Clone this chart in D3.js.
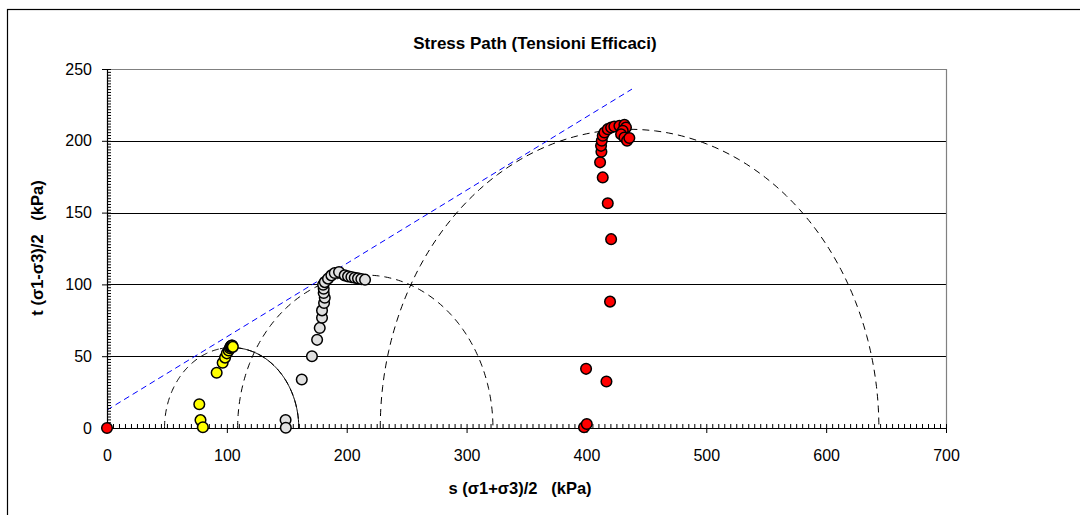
<!DOCTYPE html>
<html><head><meta charset="utf-8">
<script src="https://cdn.jsdelivr.net/npm/d3@7/dist/d3.min.js"></script>
<style>
html,body{margin:0;padding:0;background:#fff;}
text{font-family:"Liberation Sans",Arial,sans-serif;}
</style></head>
<body><svg id="c" width="1080" height="515"></svg>
<script>
const title = "Stress Path (Tensioni Efficaci)";
const xLabel = "s (σ1+σ3)/2   (kPa)";
const yLabel = "t (σ1-σ3)/2   (kPa)";
const xTicks = [0,100,200,300,400,500,600,700];
const yTicks = [0,50,100,150,200,250];

const yellowS = [77,78,80,91.5,96.5,98.5,100,101.5,102.5,103,103.5,104,104.5,105];
const yellowT = [16.5,5.5,0.5,38.5,45.5,49,52,54,55.5,56.5,57,57.5,57.5,56.5];

const greyS = [149,149.2,162.5,171,175.3,177.5,179.4,179.4,181.1,181.7,180.8,180.8,180.3,181.7,184.4,187.2,190,193.6,198.3,201.1,203.9,206.7,209.4,212.2,215.3];
const greyT = [5.6,0.2,33.8,50,61.4,69.7,76.8,81.9,87,90.7,94,97,99.8,101.6,104,106.3,107.9,108.6,106.3,105.6,105.1,104.6,104.2,103.7,103.3];

const redS = [0,398,400.3,416.7,399.7,419.7,420.6,417.8,413.6,411.4,412.5,412.2,412.8,413.6,415,417.8,420.6,423.3,427.5,431.7,433,430.3,428.9,431.7,433.9,435.8];
const redT = [0,0.5,2.8,32.4,41.2,88,131.5,156.5,174.5,185,192.4,196.5,200,203.5,205.8,208.1,209.3,210,210.4,211.1,209.3,207,204.6,202.3,200,201.9];

const circleCenters = [104,215.5,436];
const circleRadii = [56,106.5,208];

const envelopeS = [0,438];
const envelopeT = [12.5,236];

const svg = d3.select("#c");
const L = 107, R = 946, T = 69, B = 428;
const x = d3.scaleLinear().domain([0,700]).range([L,R]);
const y = d3.scaleLinear().domain([0,250]).range([B,T]);

// outer border
svg.append("rect").attr("x",7.5).attr("y",9.5).attr("width",1200).attr("height",700)
  .attr("fill","none").attr("stroke","#000").attr("stroke-width",1.2);

// gridlines
svg.append("g").selectAll("line").data(yTicks.filter(v=>v>0 && v<250)).join("line")
  .attr("x1",L).attr("x2",R).attr("y1",d=>Math.round(y(d))+0.5).attr("y2",d=>Math.round(y(d))+0.5)
  .attr("stroke","#000").attr("stroke-width",1);
// plot border top/right grey
svg.append("path").attr("d",`M${L},${Math.round(y(250))+0.5}H${R+0.5}V${B}`)
  .attr("fill","none").attr("stroke","#808080").attr("stroke-width",1.2);

// Mohr circles
const gC = svg.append("g");
circleCenters.forEach((c,i)=>{
  const r = circleRadii[i];
  const pts = d3.range(0,181,1).map(a=>[c + r*Math.cos(Math.PI - a*Math.PI/180), r*Math.sin(Math.PI - a*Math.PI/180)]);
  const line = d3.line().x(p=>x(p[0])).y(p=>y(p[1]));
  gC.append("path").attr("d",line(pts)).attr("fill","none").attr("stroke","#000")
    .attr("stroke-width",1).attr("stroke-dasharray","7,5");
  if(i===0){
    const pts2 = d3.range(80,181,1).map(a=>[c + r*Math.cos(Math.PI - a*Math.PI/180), r*Math.sin(Math.PI - a*Math.PI/180)]);
    gC.append("path").attr("d",line(pts2)).attr("fill","none").attr("stroke","#000").attr("stroke-width",1);
  }
});

// envelope
svg.append("path").attr("d",d3.line().x((d,i)=>x(envelopeS[i])).y((d,i)=>y(envelopeT[i]))(envelopeS))
  .attr("fill","none").attr("stroke","#0000FF").attr("stroke-width",1).attr("stroke-dasharray","6,4");

function series(S,Tv,fill){
  svg.append("g").selectAll("circle").data(S).join("circle")
    .attr("cx",(d,i)=>x(S[i])).attr("cy",(d,i)=>y(Tv[i])).attr("r",5.3)
    .attr("fill",fill).attr("stroke","#000").attr("stroke-width",1.5);
}

// axes
const xMinor = d3.range(0,701,5).filter(v=>v%100!==0);
const yMinor = d3.range(0,251,2).filter(v=>v%50!==0);
svg.append("g").attr("transform",`translate(0,${B})`)
  .call(d3.axisTop(x).tickValues(xMinor).tickSize(4).tickFormat(""))
  .call(g=>g.select(".domain").remove()).selectAll("line").attr("stroke","#000");
svg.append("g").attr("transform",`translate(${L},0)`)
  .call(d3.axisRight(y).tickValues(yMinor).tickSize(4).tickFormat(""))
  .call(g=>g.select(".domain").remove()).selectAll("line").attr("stroke","#000");

const gx = svg.append("g").attr("transform",`translate(0,${B})`)
  .call(d3.axisBottom(x).tickValues(xTicks).tickSize(5).tickSizeOuter(0).tickPadding(17));
gx.select(".domain").attr("d",`M${L},0.5H${R}`).attr("stroke","#000").attr("stroke-width",1.2);
gx.selectAll(".tick line").attr("y1",-4).attr("stroke","#000");
gx.selectAll("text").attr("font-size",16).attr("fill","#000").attr("font-family","Liberation Sans, Arial, sans-serif");

const gy = svg.append("g").attr("transform",`translate(${L},0)`)
  .call(d3.axisLeft(y).tickValues(yTicks).tickSize(5).tickSizeOuter(0).tickPadding(10));
gy.select(".domain").attr("d",`M0.5,${T}V${B}`).attr("stroke","#000").attr("stroke-width",1.2);
gy.selectAll(".tick line").attr("x1",4).attr("stroke","#000");
gy.selectAll("text").attr("font-size",16).attr("fill","#000").attr("font-family","Liberation Sans, Arial, sans-serif");

series(yellowS,yellowT,"#FFFF00");
series(greyS,greyT,"#E0E0E0");
series(redS,redT,"#FF0000");

// titles
svg.append("text").attr("x",535).attr("y",49).attr("text-anchor","middle")
  .attr("font-size",17).attr("font-weight","bold").text(title);
svg.append("text").attr("x",520).attr("y",494).attr("text-anchor","middle")
  .attr("font-size",16.5).attr("font-weight","bold").style("white-space","pre").text(xLabel);
svg.append("text").attr("transform","translate(43,248) rotate(-90)").attr("text-anchor","middle")
  .attr("font-size",16.5).attr("font-weight","bold").style("white-space","pre").text(yLabel);
</script></body></html>
